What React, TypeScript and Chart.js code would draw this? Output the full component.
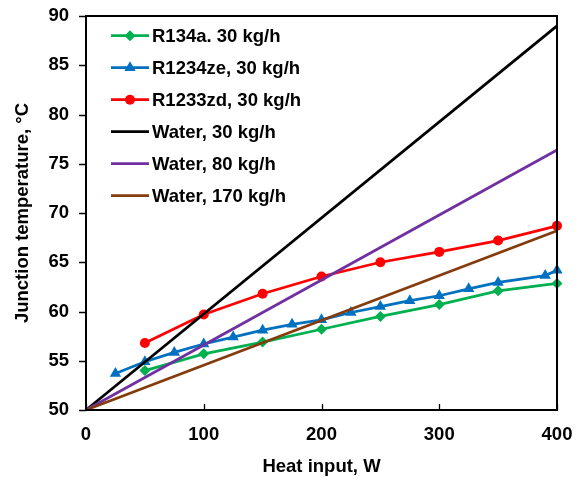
import React, { useEffect, useRef } from "react";
import { Chart, registerables } from "chart.js";

Chart.register(...registerables);

const heatR134a = [50, 100, 150, 200, 250, 300, 350, 400];
const tempR134a = [54.0, 55.7, 56.9, 58.2, 59.5, 60.7, 62.1, 62.85];

const heatR1234ze = [25, 50, 75, 100, 125, 150, 175, 200, 225, 250, 275, 300, 325, 350, 390, 400];
const tempR1234ze = [53.7, 54.9, 55.85, 56.7, 57.4, 58.1, 58.7, 59.15, 59.9, 60.5, 61.1, 61.6, 62.3, 62.95, 63.65, 64.2];

const heatR1233zd = [50, 100, 150, 200, 250, 300, 350, 400];
const tempR1233zd = [56.8, 59.7, 61.8, 63.55, 65.0, 66.05, 67.2, 68.7];

const heatWater = [0, 400];
const tempWater30 = [50, 89.0];
const tempWater80 = [50, 76.4];
const tempWater170 = [50, 68.2];

const seriesLabels = [
  "R134a. 30 kg/h",
  "R1234ze, 30 kg/h",
  "R1233zd, 30 kg/h",
  "Water, 30 kg/h",
  "Water, 80 kg/h",
  "Water, 170 kg/h",
];

const xTicks = [0, 100, 200, 300, 400];
const yTicks = [50, 55, 60, 65, 70, 75, 80, 85, 90];

const FONT = "'Liberation Sans', Arial, sans-serif";
const FS = 18.5;

function pts(xs: number[], ys: number[]) {
  return xs.map((x, i) => ({ x, y: ys[i] }));
}

const framePlugin = {
  id: "frameAndLegend",
  afterDatasetsDraw(chart: any) {
    const { ctx, chartArea } = chart;
    const xs = chart.scales.x;
    const ys = chart.scales.y;
    ctx.save();
    ctx.strokeStyle = "#000";
    ctx.lineWidth = 2;
    ctx.strokeRect(chartArea.left, chartArea.top, chartArea.right - chartArea.left, chartArea.bottom - chartArea.top);
    ctx.lineWidth = 1.3;
    ctx.beginPath();
    yTicks.forEach((v) => {
      const y = Math.round(ys.getPixelForValue(v)) + 0.5;
      ctx.moveTo(chartArea.left - 7, y);
      ctx.lineTo(chartArea.left, y);
    });
    xTicks.forEach((v) => {
      const x = Math.round(xs.getPixelForValue(v)) + 0.5;
      ctx.moveTo(x, chartArea.bottom);
      ctx.lineTo(x, chartArea.bottom - 6);
    });
    ctx.stroke();

    // legend
    const x0 = 111;
    const x1 = 149;
    const y0 = 35.7;
    const dy = 32;
    ctx.font = `bold ${FS}px ${FONT}`;
    ctx.textBaseline = "middle";
    ctx.textAlign = "left";
    chart.data.datasets.forEach((ds: any, i: number) => {
      const y = y0 + dy * i;
      ctx.strokeStyle = ds.borderColor;
      ctx.lineWidth = ds.borderWidth;
      ctx.beginPath();
      ctx.moveTo(x0, y);
      ctx.lineTo(x1, y);
      ctx.stroke();
      if (ds.pointRadius > 0) {
        ctx.fillStyle = ds.pointBackgroundColor;
        ctx.beginPath();
        const cx = (x0 + x1) / 2;
        const r = ds.pointRadius;
        if (ds.pointStyle === "circle") {
          ctx.arc(cx, y, r, 0, Math.PI * 2);
        } else if (ds.pointStyle === "triangle") {
          ctx.moveTo(cx, y - r);
          ctx.lineTo(cx + r * 0.866, y + r * 0.5);
          ctx.lineTo(cx - r * 0.866, y + r * 0.5);
          ctx.closePath();
        } else {
          ctx.moveTo(cx, y - r);
          ctx.lineTo(cx + r, y);
          ctx.lineTo(cx, y + r);
          ctx.lineTo(cx - r, y);
          ctx.closePath();
        }
        ctx.fill();
      }
      ctx.fillStyle = "#000";
      ctx.fillText(seriesLabels[i], 152, y + 1);
    });
    ctx.restore();
  },
};

export default function App() {
  const ref = useRef<HTMLCanvasElement | null>(null);
  useEffect(() => {
    document.body.style.margin = "0";
    const canvas = ref.current!;
    const mk = (label: string, data: any[], color: string, style: any, radius: number, width: number, order: number) => ({
      label,
      data,
      borderColor: color,
      backgroundColor: color,
      pointBackgroundColor: color,
      pointBorderColor: color,
      pointBorderWidth: 0,
      pointStyle: style,
      pointRadius: radius,
      borderWidth: width,
      showLine: true,
      clip: false as any,
      order,
    });
    const chart = new Chart(canvas, {
      type: "scatter",
      data: {
        datasets: [
          mk(seriesLabels[0], pts(heatR134a, tempR134a), "#00B050", "rectRot", 5.5, 2.75, 6),
          mk(seriesLabels[1], pts(heatR1234ze, tempR1234ze), "#0070C0", "triangle", 6.5, 2.75, 5),
          mk(seriesLabels[2], pts(heatR1233zd, tempR1233zd), "#FF0000", "circle", 5, 2.75, 4),
          mk(seriesLabels[3], pts(heatWater, tempWater30), "#000000", "circle", 0, 2.75, 3),
          mk(seriesLabels[4], pts(heatWater, tempWater80), "#7030A0", "circle", 0, 2.75, 2),
          mk(seriesLabels[5], pts(heatWater, tempWater170), "#843C0C", "circle", 0, 2.75, 1),
        ],
      },
      options: {
        animation: false,
        responsive: false,
        devicePixelRatio: 1,
        layout: { padding: { left: 0, right: 25, top: 16, bottom: 0 } },
        plugins: { legend: { display: false }, tooltip: { enabled: false } },
        elements: { line: { tension: 0 } },
        scales: {
          x: {
            type: "linear",
            min: 0,
            max: 400,
            afterBuildTicks: (s: any) => {
              s.ticks = xTicks.map((v) => ({ value: v }));
            },
            afterFit: (s: any) => {
              s.height = 73;
              s.paddingLeft = 0;
              s.paddingRight = 0;
            },
            grid: { display: false, drawTicks: false },
            border: { display: false },
            ticks: {
              color: "#000",
              font: { family: FONT, size: FS, weight: "bold" },
              padding: 14,
              maxRotation: 0,
              autoSkip: false,
            },
            title: {
              display: true,
              text: "Heat input, W",
              color: "#000",
              font: { family: FONT, size: FS, weight: "bold" },
              padding: { top: 0, bottom: 5 },
            },
          },
          y: {
            type: "linear",
            min: 50,
            max: 90,
            afterBuildTicks: (s: any) => {
              s.ticks = yTicks.map((v) => ({ value: v }));
            },
            afterFit: (s: any) => {
              s.width = 86;
              s.paddingTop = 0;
              s.paddingBottom = 0;
            },
            grid: { display: false, drawTicks: false },
            border: { display: false },
            ticks: {
              color: "#000",
              font: { family: FONT, size: FS, weight: "bold" },
              padding: 17,
              autoSkip: false,
            },
            title: {
              display: true,
              text: "Junction temperature, °C",
              color: "#000",
              font: { family: FONT, size: FS, weight: "bold" },
              padding: { top: 12, bottom: 0 },
            },
          },
        },
      },
      plugins: [framePlugin],
    });
    return () => chart.destroy();
  }, []);
  return <canvas ref={ref} width={582} height={483} style={{ display: "block" }} />;
}
